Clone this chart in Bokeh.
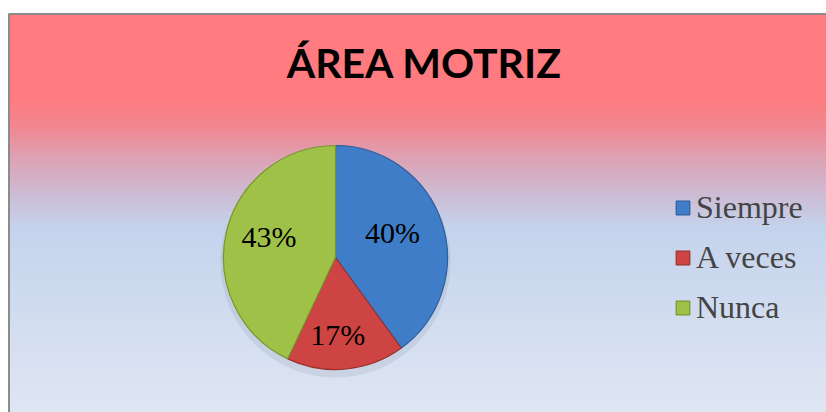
import math
from bokeh.plotting import figure
from bokeh.models import Range1d, ColumnDataSource, Legend, LegendItem
from bokeh.core.properties import value
from bokeh.embed import file_html
from bokeh.resources import INLINE

# ---- data ----
categories = ["Siempre", "A veces", "Nunca"]
percents = [40, 17, 43]
labels = ["40%", "17%", "43%"]
colors = ["#3F7DC8", "#CD4442", "#9FC148"]
edge_colors = ["#2C5E9C", "#9E2F2D", "#76962F"]
title_text = "ÁREA MOTRIZ"

W, H = 826, 412
p = figure(width=W, height=H, output_backend="svg", toolbar_location=None,
           x_range=Range1d(0, W), y_range=Range1d(0, H), min_border=0,
           background_fill_color="white", border_fill_color="white")
p.axis.visible = False
p.grid.visible = False
p.outline_line_color = None

# ---- background gradient (style), y measured from bottom ----
def hex2rgb(h):
    h = h.lstrip("#")
    return [int(h[i:i+2], 16) for i in (0, 2, 4)]

TOP = H - 14
stops = [(TOP, "#FF7B7F"), (314, "#FF7B7F"), (285, "#F08791"), (255, "#DDA2B4"),
         (220, "#CEBAD3"), (185, "#C4D3EC"), (0, "#DFE6F3")]
def grad_color(y):
    for (y0, c0), (y1, c1) in zip(stops[:-1], stops[1:]):
        if y1 <= y <= y0:
            t = (y0 - y) / (y0 - y1) if y0 != y1 else 0
            a, b = hex2rgb(c0), hex2rgb(c1)
            r = [round(a[i] + (b[i] - a[i]) * t) for i in range(3)]
            return "#%02x%02x%02x" % tuple(r)
    return stops[-1][1]

step = 2
bottoms = list(range(0, TOP, step))
gsrc = ColumnDataSource(dict(b=bottoms, t=[min(b + step, TOP) for b in bottoms],
                             c=[grad_color(b + step / 2) for b in bottoms]))
p.quad(left=9, right=W, bottom="b", top="t", fill_color="c", line_color="c",
       line_width=1, source=gsrc)
# frame border
p.line([8.5, 8.5, W], [0, TOP + 0.5, TOP + 0.5], line_color="#8C8C8C", line_width=2)

# ---- pie ----
cx, cy, R = 335, 155, 112
total = sum(percents)
starts, ends, mids = [], [], []
a = math.pi / 2
for v in percents:
    e = a - v / total * 2 * math.pi
    starts.append(a)
    ends.append(e)
    mids.append((a + e) / 2)
    a = e

src = ColumnDataSource(dict(cat=categories, start=starts, end=ends,
                            color=colors, edge=edge_colors))
# faint shadow
p.ellipse(x=cx, y=cy - 5, width=2 * R + 6, height=2 * R + 6,
          fill_color="#7F8FA8", fill_alpha=0.18, line_color=None)
w = p.wedge(x=cx, y=cy, radius=R, start_angle="start", end_angle="end",
            direction="clock", fill_color="color", line_color="edge",
            line_width=1.2, source=src)

lr = 0.6 * R
label_dx = [-7, -4, -1]
label_dy = [4, -10, 6]
lx = [cx + lr * math.cos(m) + dx for m, dx in zip(mids, label_dx)]
ly = [cy + lr * math.sin(m) + dy for m, dy in zip(mids, label_dy)]
p.text(x=lx, y=ly, text=labels, text_font=value("Liberation Serif"),
       text_font_size="30px", text_align="center", text_baseline="middle",
       text_color="black")

# ---- title ----
p.text(x=[424], y=[H - 62], text=[title_text], text_font=value("Lato"),
       text_font_style="bold", text_font_size="41px", text_align="center",
       text_baseline="middle", text_color="black")

# ---- legend ----
items = [LegendItem(label=c, renderers=[w], index=i) for i, c in enumerate(categories)]
legend = Legend(items=items, location=(674, 86), orientation="vertical",
                label_text_font="Liberation Serif", label_text_font_size="32px",
                glyph_width=17, glyph_height=17, label_height=37, spacing=13,
                padding=0, margin=0, label_standoff=5,
                border_line_color=None, background_fill_alpha=0)
p.add_layout(legend, "center")

open("out.html", "w").write(file_html(p, INLINE))
